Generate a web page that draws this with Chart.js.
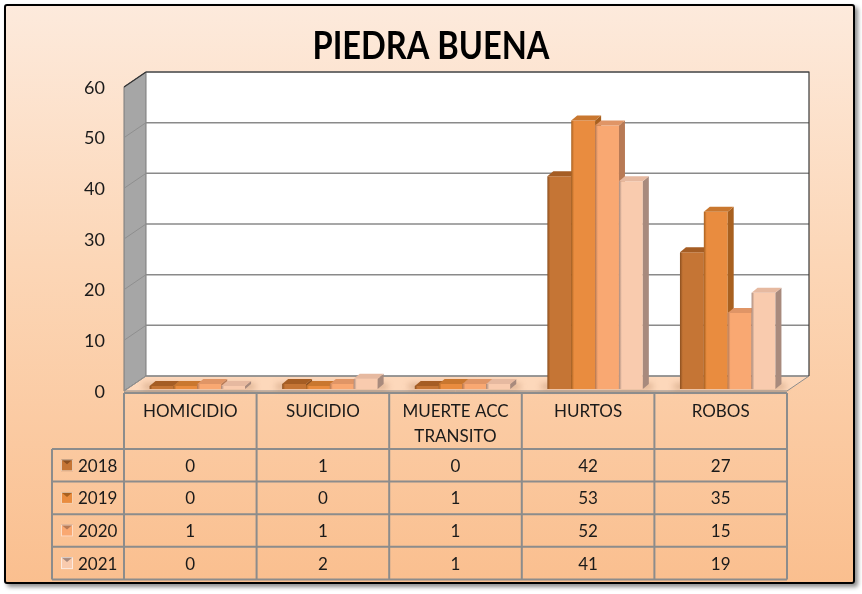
<!DOCTYPE html>
<html>
<head>
<meta charset="utf-8">
<script src="https://cdn.jsdelivr.net/npm/chart.js@4.4.0/dist/chart.umd.min.js"></script>
<style>
    html, body { margin: 0; padding: 0; background: #fff; }
    #frame {
        position: absolute; left: 4px; top: 4px; width: 847px; height: 576px;
        border: 2px solid #000; border-radius: 3px;
        background: linear-gradient(to bottom, #fdeadc 0%, #fcd6b6 45%, #fabf8f 100%);
        box-shadow: 3px 3px 4px rgba(0, 0, 0, 0.45);
    }
    #chart { position: absolute; left: 0; top: 0; }
</style>
</head>
<body>
<div id="frame"></div>
<canvas id="chart" width="862" height="594"></canvas>
<script>
var categories = ['HOMICIDIO', 'SUICIDIO', ['MUERTE ACC', 'TRANSITO'], 'HURTOS', 'ROBOS'];
var years = ['2018', '2019', '2020', '2021'];
var values2018 = [0, 1, 0, 42, 27];
var values2019 = [0, 0, 1, 53, 35];
var values2020 = [1, 1, 1, 52, 15];
var values2021 = [0, 2, 1, 41, 19];
var yTicks = [0, 10, 20, 30, 40, 50, 60];

var frontColors = ['#c57535', '#e98c3f', '#f9a872', '#f9cbae'];
var sideColors = ['#8c4f1f', '#a8601f', '#b87a55', '#a88a7d'];
var topColors = ['#a55d24', '#c9772f', '#e09566', '#e6b9a0'];

var FONT = 'Lato, "Open Sans", sans-serif';
var WALL_DX = 22, WALL_DY = -15;   // depth of the walls / floor
var BAR_DX = 6, BAR_DY = -5;       // depth of each bar
var BAR_SHIFT_X = 7, BAR_SHIFT_Y = -2;

function poly(ctx, pts, fill, stroke) {
    ctx.beginPath();
    ctx.moveTo(pts[0][0], pts[0][1]);
    for (var i = 1; i < pts.length; i++) ctx.lineTo(pts[i][0], pts[i][1]);
    ctx.closePath();
    if (fill) { ctx.fillStyle = fill; ctx.fill(); }
    if (stroke) { ctx.strokeStyle = stroke; ctx.stroke(); }
}

var chart3d = {
    id: 'chart3d',
    beforeDatasetsDraw: function (chart) {
        var ctx = chart.ctx;
        var area = chart.chartArea;
        var y = chart.scales.y;
        var L = area.left, R = area.right;
        var yTop = y.getPixelForValue(60), yBot = y.getPixelForValue(0);

        ctx.save();
        // back wall
        ctx.fillStyle = '#ffffff';
        ctx.fillRect(L + WALL_DX, yTop + WALL_DY, R - L, yBot - yTop);
        // left wall
        ctx.lineWidth = 1;
        poly(ctx, [[L, yTop], [L + WALL_DX, yTop + WALL_DY], [L + WALL_DX, yBot + WALL_DY], [L, yBot]], '#a6a6a6', '#7a7a7a');
        // floor
        poly(ctx, [[L, yBot], [L + WALL_DX, yBot + WALL_DY], [R + WALL_DX, yBot + WALL_DY], [R, yBot]], '#fdd8bb', '#8c8c8c');

        // grid lines
        yTicks.forEach(function (v) {
            var py = y.getPixelForValue(v);
            ctx.strokeStyle = '#8a8a8a';
            ctx.lineWidth = 1.5;
            ctx.beginPath();
            ctx.moveTo(L + WALL_DX, py + WALL_DY);
            ctx.lineTo(R + WALL_DX, py + WALL_DY);
            ctx.stroke();
            ctx.strokeStyle = '#8f8f8f';
            ctx.lineWidth = 1;
            ctx.beginPath();
            ctx.moveTo(L, py);
            ctx.lineTo(L + WALL_DX, py + WALL_DY);
            ctx.stroke();
        });
        // wall outline
        ctx.strokeStyle = '#3a3a3a';
        ctx.lineWidth = 1.2;
        ctx.beginPath();
        ctx.moveTo(L + WALL_DX, yTop + WALL_DY);
        ctx.lineTo(R + WALL_DX, yTop + WALL_DY);
        ctx.lineTo(R + WALL_DX, yBot + WALL_DY);
        ctx.stroke();
        ctx.strokeStyle = '#333';
        ctx.beginPath();
        ctx.moveTo(L, yTop);
        ctx.lineTo(L + WALL_DX, yTop + WALL_DY);
        ctx.stroke();

        // y tick labels
        ctx.fillStyle = '#1a1a1a';
        ctx.font = '18px ' + FONT;
        ctx.textAlign = 'right';
        ctx.textBaseline = 'middle';
        yTicks.forEach(function (v) {
            ctx.fillText(String(v), L - 19, y.getPixelForValue(v) + 1);
        });

        // floor shadows under the bars
        var metas = chart.data.datasets.map(function (d, i) { return chart.getDatasetMeta(i); });
        var nCat = chart.data.labels.length;
        for (var c = 0; c < nCat; c++) {
            var first = metas[0].data[c], last = metas[metas.length - 1].data[c];
            var x0 = first.x - first.width / 2 + BAR_SHIFT_X;
            var x1 = last.x + last.width / 2 + BAR_SHIFT_X + BAR_DX;
            ctx.save();
            ctx.filter = 'blur(3px)';
            ctx.fillStyle = 'rgba(140, 80, 40, 0.35)';
            ctx.fillRect(x0 - 6, yBot + BAR_SHIFT_Y - 5, x1 - x0 + 10, 5);
            ctx.restore();
        }

        // bars: per category, back-to-front in series order
        for (c = 0; c < nCat; c++) {
            for (var d = 0; d < metas.length; d++) {
                var el = metas[d].data[c];
                var p = el.getProps(['x', 'y', 'base', 'width'], true);
                var l = p.x - p.width / 2 + BAR_SHIFT_X;
                var r = p.x + p.width / 2 + BAR_SHIFT_X;
                var t = Math.min(p.y, p.base) + BAR_SHIFT_Y;
                var b = Math.max(p.y, p.base) + BAR_SHIFT_Y;
                var g = ctx.createLinearGradient(l, 0, r, 0);
                g.addColorStop(0, sideColors[d]);
                g.addColorStop(0.12, frontColors[d]);
                g.addColorStop(1, frontColors[d]);
                poly(ctx, [[l, t], [r, t], [r, b], [l, b]], g);
                poly(ctx, [[r, t], [r + BAR_DX, t + BAR_DY], [r + BAR_DX, b + BAR_DY], [r, b]], sideColors[d]);
                poly(ctx, [[l, t], [l + BAR_DX, t + BAR_DY], [r + BAR_DX, t + BAR_DY], [r, t]], topColors[d]);
            }
        }
        ctx.restore();
        return false;
    },
    afterDraw: function (chart) {
        var ctx = chart.ctx;
        var area = chart.chartArea;
        var xs = chart.scales.x;
        var L = area.left, R = area.right;
        var nCat = chart.data.labels.length;
        var cw = (R - L) / nCat;
        var top = chart.scales.y.getPixelForValue(0) + 2;
        var headH = 56, rowH = 32.6;
        var legL = 52;
        var series = chart.data.datasets;

        ctx.save();
        // title, squeezed horizontally like the condensed original face
        ctx.fillStyle = '#000';
        ctx.font = 'bold 39px ' + FONT;
        ctx.textAlign = 'center';
        ctx.textBaseline = 'middle';
        var tw = ctx.measureText('PIEDRA BUENA').width;
        ctx.save();
        ctx.translate(431, 46);
        ctx.scale(237 / tw, 1);
        ctx.fillText('PIEDRA BUENA', 0, 0);
        ctx.restore();

        // table grid
        ctx.strokeStyle = '#8c8c8c';
        ctx.lineWidth = 2;
        var bottom = top + headH + rowH * series.length;
        ctx.beginPath();
        ctx.moveTo(L, top); ctx.lineTo(R, top);
        for (var k = 0; k <= series.length; k++) {
            var ry = top + headH + rowH * k;
            ctx.moveTo(legL, ry); ctx.lineTo(R, ry);
        }
        for (var c = 0; c <= nCat; c++) {
            var cx = L + cw * c;
            ctx.moveTo(cx, top); ctx.lineTo(cx, bottom);
        }
        ctx.moveTo(legL, top + headH); ctx.lineTo(legL, bottom);
        ctx.stroke();

        // category header
        ctx.fillStyle = '#1a1a1a';
        ctx.font = '17px ' + FONT;
        ctx.textBaseline = 'middle';
        ctx.textAlign = 'center';
        chart.data.labels.forEach(function (lab, i) {
            var lines = Array.isArray(lab) ? lab : [lab];
            var px = xs.getPixelForValue(i);
            lines.forEach(function (s, j) {
                ctx.fillText(s, px, top + 19 + j * 25);
            });
        });

        // rows
        series.forEach(function (ds, d) {
            var cy = top + headH + rowH * d + rowH / 2;
            // legend key
            var kx = 61, ky = cy - 6;
            ctx.fillStyle = ds.backgroundColor;
            ctx.fillRect(kx, ky, 12, 12);
            ctx.fillStyle = sideColors[d];
            ctx.beginPath();
            ctx.moveTo(kx, ky); ctx.lineTo(kx + 12, ky); ctx.lineTo(kx + 6, ky + 5); ctx.closePath();
            ctx.fill();
            ctx.strokeStyle = 'rgba(255,255,255,0.6)';
            ctx.lineWidth = 1;
            ctx.strokeRect(kx + 0.5, ky + 0.5, 11, 11);
            ctx.fillStyle = '#1a1a1a';
            ctx.textAlign = 'left';
            ctx.fillText(ds.label, 78, cy + 1);
            ctx.textAlign = 'center';
            ds.data.forEach(function (v, i) {
                ctx.fillText(String(v), xs.getPixelForValue(i), cy + 1);
            });
        });
        ctx.restore();
    }
};

var ctx = document.getElementById('chart').getContext('2d');
new Chart(ctx, {
    type: 'bar',
    data: {
        labels: categories,
        datasets: [
            { label: years[0], data: values2018, backgroundColor: frontColors[0] },
            { label: years[1], data: values2019, backgroundColor: frontColors[1] },
            { label: years[2], data: values2020, backgroundColor: frontColors[2] },
            { label: years[3], data: values2021, backgroundColor: frontColors[3] }
        ]
    },
    options: {
        responsive: false,
        animation: false,
        devicePixelRatio: 1,
        layout: { padding: { left: 124, right: 862 - 787, top: 87, bottom: 594 - 391 } },
        datasets: { bar: { categoryPercentage: 0.72, barPercentage: 1.0, minBarLength: 3 } },
        plugins: { legend: { display: false }, tooltip: { enabled: false } },
        scales: {
            x: { display: false },
            y: { display: false, min: 0, max: 60 }
        }
    },
    plugins: [chart3d]
});
</script>
</body>
</html>
